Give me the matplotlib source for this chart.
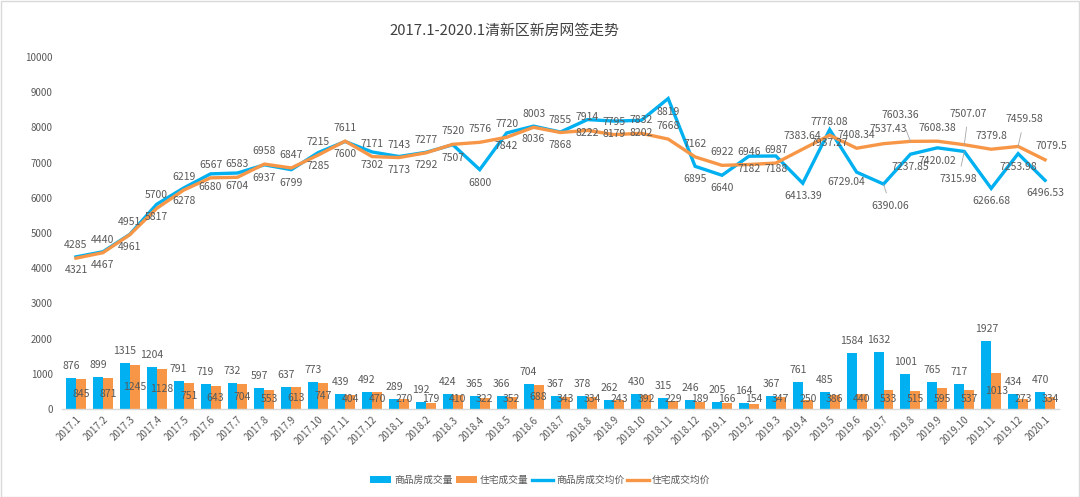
import matplotlib
matplotlib.use("Agg")
import matplotlib.pyplot as plt
import numpy as np
from matplotlib.patches import Rectangle

plt.rcParams['font.family'] = ['Noto Sans CJK SC', 'DejaVu Sans']

months = ["2017.1", "2017.2", "2017.3", "2017.4", "2017.5", "2017.6", "2017.7", "2017.8", "2017.9",
          "2017.10", "2017.11", "2017.12",
          "2018.1", "2018.2", "2018.3", "2018.4", "2018.5", "2018.6", "2018.7", "2018.8", "2018.9",
          "2018.10", "2018.11", "2018.12",
          "2019.1", "2019.2", "2019.3", "2019.4", "2019.5", "2019.6", "2019.7", "2019.8", "2019.9",
          "2019.10", "2019.11", "2019.12", "2020.1"]

comm_vol = [876, 899, 1315, 1204, 791, 719, 732, 597, 637, 773, 439, 492,
            289, 192, 424, 365, 366, 704, 367, 378, 262, 430, 315, 246,
            205, 164, 367, 761, 485, 1584, 1632, 1001, 765, 717, 1927, 434, 470]
res_vol = [845, 871, 1245, 1128, 751, 643, 704, 553, 613, 747, 404, 470,
           270, 179, 410, 322, 352, 688, 343, 334, 243, 392, 229, 189,
           166, 154, 347, 250, 386, 440, 533, 515, 595, 537, 1013, 273, 334]
comm_price = [4321, 4467, 4961, 5817, 6278, 6680, 6704, 6937, 6799, 7285, 7600, 7302,
              7173, 7292, 7507, 6800, 7842, 8036, 7868, 8222, 8179, 8202, 8819, 6895,
              6640, 7182, 7188, 6413.39, 7937.27, 6729.04, 6390.06, 7237.85, 7420.02,
              7315.98, 6266.68, 7253.98, 6496.53]
res_price = [4285, 4440, 4951, 5700, 6219, 6567, 6583, 6958, 6847, 7215, 7611, 7171,
             7143, 7277, 7520, 7576, 7720, 8003, 7855, 7914, 7795, 7832, 7668, 7162,
             6922, 6946, 6987, 7383.64, 7778.08, 7408.34, 7537.43, 7603.36, 7608.38,
             7507.07, 7379.8, 7459.58, 7079.5]

series_names = ["商品房成交量", "住宅成交量", "商品房成交均价", "住宅成交均价"]
title = "2017.1-2020.1清新区新房网签走势"

BLUE = "#00B0F0"
ORANGE = "#F79646"
TXT = "#595959"

W, H = 1080, 497
fig = plt.figure(figsize=(W / 100, H / 100), dpi=100)
ax = fig.add_axes([62.5 / W, 1 - 409 / H, (1058.5 - 62.5) / W, (409 - 57) / H])

x = np.arange(len(months))
bw = 0.37
b1 = ax.bar(x - bw / 2, comm_vol, width=bw, color=BLUE, label=series_names[0], zorder=2)
b2 = ax.bar(x + bw / 2, res_vol, width=bw, color=ORANGE, label=series_names[1], zorder=2)
l1, = ax.plot(x, comm_price, color=BLUE, lw=2.4, label=series_names[2], zorder=3, solid_joinstyle='miter')
l2, = ax.plot(x, res_price, color=ORANGE, lw=2.4, label=series_names[3], zorder=4, solid_joinstyle='miter')

ax.set_xlim(-0.5, len(months) - 0.5)
ax.set_ylim(0, 10000)
ax.set_yticks(np.arange(0, 10001, 1000))
ax.tick_params(axis='y', length=0, labelsize=7, labelcolor=TXT, pad=7)
ax.set_xticks(x)
ax.set_xticklabels(months, rotation=45, ha='right', rotation_mode='anchor', fontsize=7, color=TXT)
ax.tick_params(axis='x', length=0, pad=4)
for s in ['top', 'right', 'left']:
    ax.spines[s].set_visible(False)
ax.spines['bottom'].set_color('#D9D9D9')
ax.spines['bottom'].set_linewidth(1)

PX = 0.72  # points per pixel
fs = 7.5

def fmt(v):
    if float(v).is_integer():
        return str(int(v))
    s = ("%.2f" % v).rstrip('0').rstrip('.')
    return s

# bar labels
for i in range(len(months)):
    ax.annotate(fmt(comm_vol[i]), (x[i] - bw / 2, comm_vol[i]), xytext=(0, 12 * PX),
                textcoords='offset points', ha='center', va='center', fontsize=fs, color=TXT, zorder=6)
    yv = max(res_vol[i] / 2, 295)
    ax.text(x[i] + bw / 2, yv, fmt(res_vol[i]), ha='center', va='center', fontsize=fs, color=TXT, zorder=6)

# line labels: (dx, dy) in pixels, dy positive = up
comm_off = {30: (7, -22), 33: (-6, -28), 29: (-10, -10)}
res_off = {31: (-10, 26), 33: (4, 31), 35: (6, 27), 30: (5, 15), 36: (6, 14)}
leaders_c = {30, 33}
leaders_r = {31, 33, 35}

for i in range(len(months)):
    dx, dy = comm_off.get(i, (0, -13))
    kw = {}
    if i in leaders_c:
        kw['arrowprops'] = dict(arrowstyle='-', color='#A6A6A6', lw=0.6, shrinkA=4, shrinkB=0)
    ax.annotate(fmt(comm_price[i]), (x[i], comm_price[i]), xytext=(dx * PX, dy * PX),
                textcoords='offset points', ha='center', va='center', fontsize=fs, color=TXT, zorder=6, **kw)
    dx, dy = res_off.get(i, (0, 13))
    kw = {}
    if i in leaders_r:
        kw['arrowprops'] = dict(arrowstyle='-', color='#A6A6A6', lw=0.6, shrinkA=4, shrinkB=0)
    ax.annotate(fmt(res_price[i]), (x[i], res_price[i]), xytext=(dx * PX, dy * PX),
                textcoords='offset points', ha='center', va='center', fontsize=fs, color=TXT, zorder=6, **kw)

fig.text(504 / W, 1 - 31 / H, title, ha='center', va='center', fontsize=10.7, color='#404040')

leg = fig.legend(handles=[b1, b2, l1, l2], labels=series_names, loc='center',
                 bbox_to_anchor=(0.5, 1 - 480 / H), ncol=4, frameon=False,
                 fontsize=7, handlelength=2.2, handleheight=0.7, columnspacing=0.3,
                 handletextpad=0.3, labelcolor=TXT)

fig.patches.append(Rectangle((0.5 / W, 0.5 / H), 1 - 1.5 / W, 1 - 1.5 / H, transform=fig.transFigure,
                             fill=False, edgecolor='#D9D9D9', lw=1))

fig.savefig("out.png", dpi=100, facecolor='white')
